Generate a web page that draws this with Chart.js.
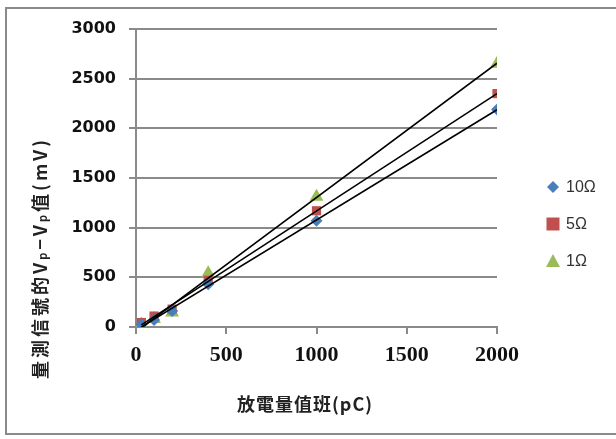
<!DOCTYPE html>
<html>
<head>
<meta charset="utf-8">
<script src="https://cdn.jsdelivr.net/npm/chart.js@4"></script>
<style>
  html, body { margin: 0; padding: 0; background: #fff; overflow: hidden; }
  #frame { position: absolute; left: 5px; top: 7px; width: 640px; height: 428px;
           border: 2px solid #8a8a8a; box-sizing: border-box; }
  #wrap { position: absolute; left: 0; top: 0; width: 616px; height: 439px; }
</style>
</head>
<body>
<div id="frame"></div>
<div id="wrap"><canvas id="c" width="616" height="439"></canvas></div>
<script>
// Discharge magnitude (pC) and measured peak-to-peak signal (mV) per resistor
const charge = [30, 100, 200, 400, 1000, 2000];
const r10 = [25, 70, 160, 430, 1070, 2190];
const r5  = [45, 110, 180, 470, 1170, 2350];
const r1  = [25, 80, 145, 540, 1310, 2650];
const seriesNames = ['10Ω', '5Ω', '1Ω'];
const xTicks = [0, 500, 1000, 1500, 2000];
const yTicks = [0, 500, 1000, 1500, 2000, 2500, 3000];

const colors = ['#4a7ebb', '#c0504d', '#9bbb59'];
const shapes = ['rectRot', 'rect', 'triangle'];
const sizes = [6, 6.5, 8];

// least-squares linear fit, drawn over the measured range
function fit(xs, ys) {
  const n = xs.length;
  let sx = 0, sy = 0, sxx = 0, sxy = 0;
  for (let i = 0; i < n; i++) { sx += xs[i]; sy += ys[i]; sxx += xs[i] * xs[i]; sxy += xs[i] * ys[i]; }
  const m = (n * sxy - sx * sy) / (n * sxx - sx * sx);
  const b = (sy - m * sx) / n;
  const x0 = Math.min(...xs), x1 = Math.max(...xs);
  return [{ x: x0, y: m * x0 + b }, { x: x1, y: m * x1 + b }];
}

const series = [r10, r5, r1];
const datasets = [];
series.forEach((ys, i) => {
  datasets.push({
    label: seriesNames[i],
    data: charge.map((x, k) => ({ x, y: ys[k] })),
    showLine: false,
    pointStyle: shapes[i],
    pointRadius: sizes[i],
    pointHoverRadius: sizes[i],
    backgroundColor: colors[i],
    borderColor: colors[i],
    borderWidth: 0,
    order: 2
  });
});
series.forEach((ys, i) => {
  datasets.push({
    label: 'fit' + i,
    data: fit(charge, ys),
    showLine: true,
    borderColor: '#000',
    borderWidth: 1.6,
    pointRadius: 0,
    fill: false,
    order: 1
  });
});

// axis titles and legend placed beside the plot
const extras = {
  id: 'extras',
  afterDraw(chart) {
    const ctx = chart.ctx;
    ctx.save();
    ctx.fillStyle = '#222';
    // x title
    ctx.font = 'bold 18px "Noto Sans CJK TC"';
    ctx.letterSpacing = '1px';
    ctx.textAlign = 'center';
    ctx.textBaseline = 'middle';
    ctx.fillText('放電量值班(pC)', 305, 404);

    // y title, rotated, with subscripts
    ctx.translate(40, 258);
    ctx.rotate(-Math.PI / 2);
    const parts = [
      ['量測信號的V', 18, 0], ['p', 11, 3], ['−V', 18, 0], ['p', 11, 3], ['值(mV)', 18, 0]
    ];
    ctx.letterSpacing = '3px';
    let total = 0;
    parts.forEach(p => { ctx.font = 'bold ' + p[1] + 'px "Noto Sans CJK TC"'; total += ctx.measureText(p[0]).width; });
    let x = -total / 2;
    ctx.textAlign = 'left';
    parts.forEach(p => {
      ctx.font = 'bold ' + p[1] + 'px "Noto Sans CJK TC"';
      ctx.fillText(p[0], x, p[2]);
      x += ctx.measureText(p[0]).width;
    });
    ctx.restore();

    // legend
    ctx.save();
    const ly = [187, 224, 261];
    ctx.font = '16px "Liberation Sans"';
    ctx.textBaseline = 'middle';
    ctx.textAlign = 'left';
    seriesNames.forEach((name, i) => {
      ctx.fillStyle = colors[i];
      const cx = 553, cy = ly[i];
      ctx.beginPath();
      if (i === 0) {
        ctx.moveTo(cx, cy - 6); ctx.lineTo(cx + 6, cy); ctx.lineTo(cx, cy + 6); ctx.lineTo(cx - 6, cy);
      } else if (i === 1) {
        ctx.rect(cx - 6.5, cy - 6.5, 13, 13);
      } else {
        ctx.moveTo(cx, cy - 7); ctx.lineTo(cx + 7, cy + 6); ctx.lineTo(cx - 7, cy + 6);
      }
      ctx.closePath();
      ctx.fill();
      ctx.fillStyle = '#333';
      ctx.fillText(name, 566, cy + 1);
    });
    ctx.restore();
  }
};

new Chart(document.getElementById('c'), {
  type: 'scatter',
  data: { datasets },
  options: {
    responsive: false,
    animation: false,
    events: [],
    layout: { padding: { left: 0, right: 119, top: 29, bottom: 0 } },
    plugins: { legend: { display: false }, tooltip: { enabled: false } },
    scales: {
      x: {
        type: 'linear', min: 0, max: 2000,
        afterBuildTicks: s => { s.ticks = xTicks.map(v => ({ value: v })); },
        grid: { drawOnChartArea: false, drawTicks: true, tickLength: 7, color: '#8a8a8a', lineWidth: 2 },
        border: { color: '#8a8a8a', width: 2 },
        ticks: { color: '#111', padding: 8, callback: v => String(v),
                 font: { family: 'Liberation Serif, serif', weight: 'bold', size: 22 } },
        afterFit: s => { s.height = 112; }
      },
      y: {
        type: 'linear', min: 0, max: 3000,
        afterBuildTicks: s => { s.ticks = yTicks.map(v => ({ value: v })); },
        grid: { drawOnChartArea: true, drawTicks: true, tickLength: 7, color: '#8a8a8a', lineWidth: 2 },
        border: { color: '#8a8a8a', width: 2 },
        ticks: { color: '#111', padding: 13, callback: v => String(v),
                 font: { family: 'DejaVu Sans, sans-serif', weight: 'bold', size: 16 } },
        afterFit: s => { s.width = 136; }
      }
    }
  },
  plugins: [extras]
});
</script>
</body>
</html>
